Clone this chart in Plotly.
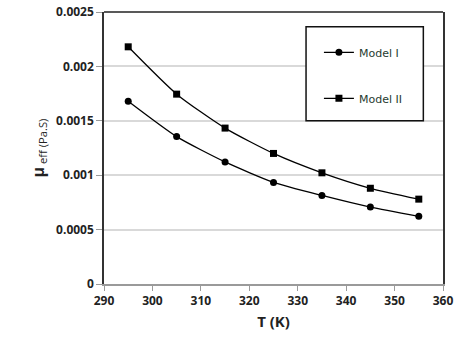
import plotly.graph_objects as go

T = [295, 305, 315, 325, 335, 345, 355]
model_1 = [0.00168, 0.001355, 0.001122, 0.000934, 0.000814, 0.000707, 0.000622]
model_2 = [0.00218, 0.001745, 0.001433, 0.0012, 0.001022, 0.00088, 0.00078]
x_ticks = [290, 300, 310, 320, 330, 340, 350, 360]
y_ticks = [0, 0.0005, 0.001, 0.0015, 0.002, 0.0025]
y_tick_text = ["0", "0.0005", "0.001", "0.0015", "0.002", "0.0025"]

font_family = "Open Sans, Liberation Sans, sans-serif"

fig = go.Figure()
fig.add_trace(go.Scatter(
    x=T, y=model_1, name="Model I", mode="lines+markers", legendgroup="a",
    line=dict(color="black", width=1.3, shape="spline", smoothing=0.6),
    marker=dict(symbol="circle", size=7, color="black"),
))
fig.add_trace(go.Scatter(
    x=T, y=model_2, name="Model II", mode="lines+markers", legendgroup="b",
    line=dict(color="black", width=1.3, shape="spline", smoothing=0.6),
    marker=dict(symbol="square", size=7, color="black"),
))

fig.update_layout(
    width=459, height=345,
    margin=dict(l=104, r=16, t=12, b=61, pad=0),
    paper_bgcolor="white", plot_bgcolor="white",
    font=dict(family=font_family, color="#222222"),
    showlegend=True,
    legend=dict(
        x=0.634, y=0.905, xanchor="left", yanchor="top",
        bgcolor="rgba(0,0,0,0)", borderwidth=0,
        tracegroupgap=27, itemwidth=30,
        font=dict(size=11, color="#1f3b2f", family="DejaVu Sans"),
    ),
    xaxis=dict(
        range=[290, 360], tickvals=x_ticks, showgrid=False, zeroline=False,
        showline=True, linecolor="#9a9a9a", linewidth=1.5, automargin=False,
        ticks="outside", ticklen=5, tickcolor="#9a9a9a",
        tickfont=dict(size=12, family=font_family, color="#222222", weight="bold"),
        title=dict(text="<b>T (K)</b>", font=dict(size=15, color="#222222"), standoff=8),
    ),
    yaxis=dict(
        range=[0, 0.0025], tickvals=y_ticks, ticktext=y_tick_text,
        showgrid=True, gridcolor="#d9d9d9", gridwidth=1.5, zeroline=False,
        showline=True, linecolor="#333333", linewidth=1.5, mirror=True, automargin=False,
        ticks="outside", ticklen=6, tickcolor="#9a9a9a",
        tickfont=dict(size=12, family=font_family, color="#222222", weight="bold"),
        title=dict(text="<b>μ</b><sub> eff (Pa.S)</sub>", font=dict(size=16, color="#222222"), standoff=8),
    ),
    shapes=[
        dict(type="line", xref="paper", yref="paper", x0=0, x1=1, y0=1, y1=1,
             line=dict(color="#222222", width=1.5)),
        dict(type="rect", xref="paper", yref="paper", x0=0.596, x1=0.942, y0=0.600, y1=0.946,
             line=dict(color="#111111", width=1.5), fillcolor="white", layer="above"),
    ],
)

fig.write_html(
    "out.html",
    config={"displayModeBar": False},
    post_script="document.body.style.margin='0px';document.body.style.overflow='hidden';",
)
